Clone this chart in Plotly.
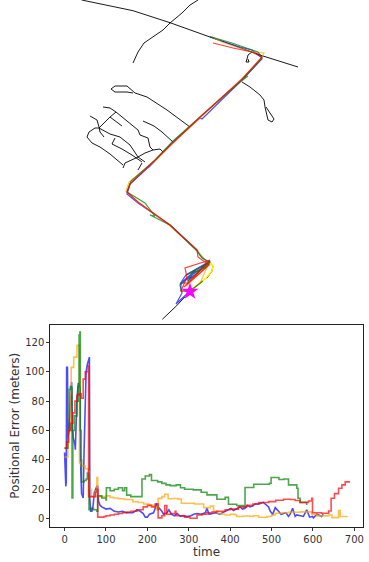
import plotly.graph_objects as go

# ---- error series (time, metres) ----
blue_t = [0,1,3,4,5,7,8,11,14,16,17,19,21,25,26,28,30,33,35,37,38,41,43,45,47,50,52,55,58,60,61,63,66,69,72,75,78,80,82,86,90,100,110,120,130,140,150,165,175,183,190,195,200,205,215,219,222,226,229,235,239,247,252,258,265,272,280,287,296,305,312,320,330,340,344,349,357,365,375,385,396,402,408,416,424,430,436,442,448,454,460,469,480,493,497,503,509,517,523,529,535,541,545,551,557,561,569,577,585,592,599,601,610,621,625,632,641]
blue_e = [45,28,22,25,103,103,55,60,80,93,93,60,55,50,47,65,82,92,92,88,45,17,15,14,45,80,100,105,108,110,14,5,5,9,18,20,22,22,12,9,8,6.5,7,5,4.5,5,4,4,6,5,3.5,1,1,3,4,7,10.5,6,7,5,3,4,6,3,2,3.5,1.5,2,1.4,2,3,3.5,3,4,7,3,3.5,4,3,4.5,6,7,5.5,7,8,6.5,7,9,8,8.5,10,10,11,8,5,3,7.5,5,3,3.5,4,1.5,3,7,1.5,2.5,2,1.5,6,1,1.5,0.5,3,1.5,3]

orange_t = [0,8,14,16,22,30,34,36,40,50,57,60,65,70,74,78,80,100,110,118,130,145,155,165,178,191,205,219,223,226,235,242,250,262,274,282,300,314,328,336,352,360,370,380,388,400,412,416,432,448,456,469,489,500,509,525,541,569,597,609,638,646,658,662,666,684]
orange_e = [42,60,85,103,110,118,118,38,36,34,32,20,15,15,19,28,15,15.5,14.5,14,13.5,13,13,11.5,11,10,9,8,6,13.8,15,16.6,13.5,13.7,13.3,10.5,10.5,10,10,7.5,8.5,5,3.5,3,2.5,3,2.5,1.4,1.8,1.4,2,0.9,1.4,2.5,3.7,4,4.3,4.6,3,1.9,2.5,0.7,0.7,5.5,1.4,1.4]

green_t = [0,8,11,14,17,18,19,20,24,30,33,35,37,38,40,41,47,52,55,58,59,62,70,78,80,90,100,101,110,120,130,140,145,150,160,185,187,195,205,210,225,235,245,255,270,280,290,311,330,344,368,388,394,396,416,432,436,457,495,499,513,518,530,541,561,564,569,585]
green_e = [48,60,88,90,89,14,14,60,70,80,90,125,127,60,40,25,26,27,31,30,6,7,6,5,15.5,14,12.7,21,19,20,21,19,21,16,15,15,27,29,30,26,25,24,23,22.5,23,21,20,19.6,18,16.2,13.2,14.5,14.5,9.8,8.9,8.2,21.2,23.4,24.1,28,28,26.6,27,23,20.7,13.9,11.1,9.3]

red_t = [0,5,10,15,20,25,30,35,38,40,45,50,57,58,70,75,78,80,85,95,100,110,120,130,140,150,160,175,190,200,210,219,226,235,242,247,257,267,269,279,290,303,320,332,344,356,368,388,400,420,440,455,469,493,510,529,545,557,569,589,597,599,621,638,644,652,662,670,678,688]
red_e = [48,52,60,65,72,80,84,85,85,82,95,100,104,15,15,18,20,1,1,1.5,2,2.5,3,3.5,4,4.5,5,6,8,9,8,10,0.5,2,8.9,3,3.5,5,2,2,1,0.3,2.5,3,4,4.5,5,6,6.5,8,9,10,11,11.6,12.5,13.2,13,12.3,11,12,13.9,4,3.7,5.2,13.9,17,20.7,23,25,25.7]

# ---- map geometry ----
roads_x = [
    [81.7,133,170,208,263,298],
    [198,190,182,170,163,144,138,133],
    [252,248,247,246,249,248],
    [242,250,260,264,265,268,272,274,266],
    [190,167,147,135,127,115,111,115,127,133],
    [173,162,154,143],
    [103,110,116,128,138,140,148,150,153,160,163],
    [116,110,99,95,89,87,92,100,110,123],
    [90,97,99,100,104],
    [110,122],
    [99,110,120,130,138,145],
    [115,112,122,132,142],
    [138,125,123],
    [153,145,138],
    [142,138],
    [162.3,176.7,185],
    [209,213,211.7,206.7],
]
roads_y = [
    [0,10.7,22.7,36,56,67],
    [0,5,13,23,30,43,52,63],
    [52,55,59,62,62,59],
    [82,87,95,100,107,120,122,119,107],
    [127,110,97,93,86,86,89,92,92,93],
    [142,132,126,121],
    [107,108,112,122,130,135,138,147,150,149,152],
    [112,117,128,128,132,137,143,147,154,165],
    [116,120,127,132,137],
    [117,126],
    [128,134,137,145,157,162],
    [138,144,149,155,162],
    [157,163,168],
    [150,153,157],
    [163,170],
    [319.3,305.7,296.7],
    [261.7,266,271.7,278.3],
]

truth_x = [190,206,212,213,209]
truth_y = [291,278,271,266,262]
truth2_x = [127,130,134]
truth2_y = [192,184,178]

track_blue_x = [190,176,182,180,192,210,188,196,210,186,180,198,209,200,197,170,138,127,130,155,146,148,173,200,202,242,262,260,257,262,252,240,222,210]
track_blue_y = [291,304,293,285,275,262,281,270,261,275,284,268,264,255,250,225,203,194,184,161,170,168,142,118,119,80,59,55,54,58,50,47,41,37]
track_orange_x = [190,200,209,191,186,209,197,170,138,126,129,155,173,200,244,262,264,251,222,212]
track_orange_y = [291,283,263,280,286,265,250,226,202,191,182,161,143,118,77,57,53,52,42,37]
track_green_x = [190,181,181,188,188,195,210,186,205,210,202,197,170,150,155,145,127,131,155,173,200,240,248,241,262,258,232,210]
track_green_y = [291,291,283,283,279,275,262,275,268,262,258,251,225,215,216,203,192,181,160,141,117,82,76,81,58,52,43,36.5]
track_red_x = [190,181,187,185,210,188,184,209,198,197,170,138,127,130,155,173,200,242,262,252,233,213]
track_red_y = [291,291,277,268,260,283,287,265,257,250,225,202,192,184,160,142,117,79,57,52,48,43]
track_short_green_x = [190,203]
track_short_green_y = [291,281]

star_x = [190]
star_y = [291.5]

LINE = 1.6
fig = go.Figure()

for rx, ry in zip(roads_x, roads_y):
    fig.add_trace(go.Scatter(x=rx, y=ry, xaxis="x2", yaxis="y2", mode="lines",
                             line=dict(color="black", width=0.9), hoverinfo="skip"))

for tx, ty in [(truth_x, truth_y), (truth2_x, truth2_y)]:
    fig.add_trace(go.Scatter(x=tx, y=ty, xaxis="x2", yaxis="y2", mode="lines",
                             line=dict(color="#ffee00", width=1.6), hoverinfo="skip"))
for tx, ty, c in [(track_blue_x, track_blue_y, "rgba(0,0,255,0.7)"),
                  (track_orange_x, track_orange_y, "rgba(255,165,0,0.7)"),
                  (track_green_x, track_green_y, "rgba(0,128,0,0.75)"),
                  (track_short_green_x, track_short_green_y, "rgba(0,128,0,0.75)"),
                  (track_red_x, track_red_y, "rgba(255,0,0,0.75)")]:
    fig.add_trace(go.Scatter(x=tx, y=ty, xaxis="x2", yaxis="y2", mode="lines",
                             line=dict(color=c, width=1.2), hoverinfo="skip"))
fig.add_trace(go.Scatter(x=star_x, y=star_y, xaxis="x2", yaxis="y2", mode="markers",
                         marker=dict(symbol="star", size=13, color="#ff00ff"), hoverinfo="skip"))

for t, e, c, sh in [(blue_t, blue_e, "rgba(0,0,255,0.7)", "linear"),
                    (orange_t, orange_e, "rgba(255,165,0,0.7)", "hv"),
                    (green_t, green_e, "rgba(0,128,0,0.7)", "hv"),
                    (red_t, red_e, "rgba(255,0,0,0.7)", "hv")]:
    fig.add_trace(go.Scatter(x=t, y=e, mode="lines", xaxis="x", yaxis="y",
                             line=dict(color=c, width=LINE, shape=sh)))

tickfont = dict(family="DejaVu Sans", size=10, color="#333333")
fig.update_layout(
    width=369, height=562, autosize=False,
    margin=dict(l=0, r=0, t=0, b=0),
    paper_bgcolor="white", plot_bgcolor="white", showlegend=False,
    xaxis=dict(domain=[50.3/369, 363/369], range=[-34.5, 721], tickvals=[0,100,200,300,400,500,600,700],
               ticks="outside", ticklen=3, tickcolor="#333333", tickfont=tickfont,
               showgrid=False, zeroline=False, showline=True, linecolor="#222222", linewidth=1, mirror=True,
               title=dict(text="time", font=dict(family="DejaVu Sans", size=12, color="#333333"), standoff=1), anchor="y"),
    yaxis=dict(domain=[35/562, 237.5/562], range=[-5.7, 132.2], tickvals=[0,20,40,60,80,100,120],
               ticks="outside", ticklen=3, tickcolor="#333333", tickfont=tickfont,
               showgrid=False, zeroline=False, showline=True, linecolor="#222222", linewidth=1, mirror=True,
               title=dict(text="Positional Error (meters)", font=dict(family="DejaVu Sans", size=12, color="#333333"), standoff=3), anchor="x"),
    xaxis2=dict(domain=[0,1], range=[0,369], visible=False, anchor="y2", fixedrange=True),
    yaxis2=dict(domain=[240/562,1], range=[322,0], visible=False, anchor="x2", fixedrange=True),
)
fig.write_html("out.html", config=dict(displayModeBar=False),
               post_script="document.body.style.margin='0';document.documentElement.style.overflow='hidden';")
